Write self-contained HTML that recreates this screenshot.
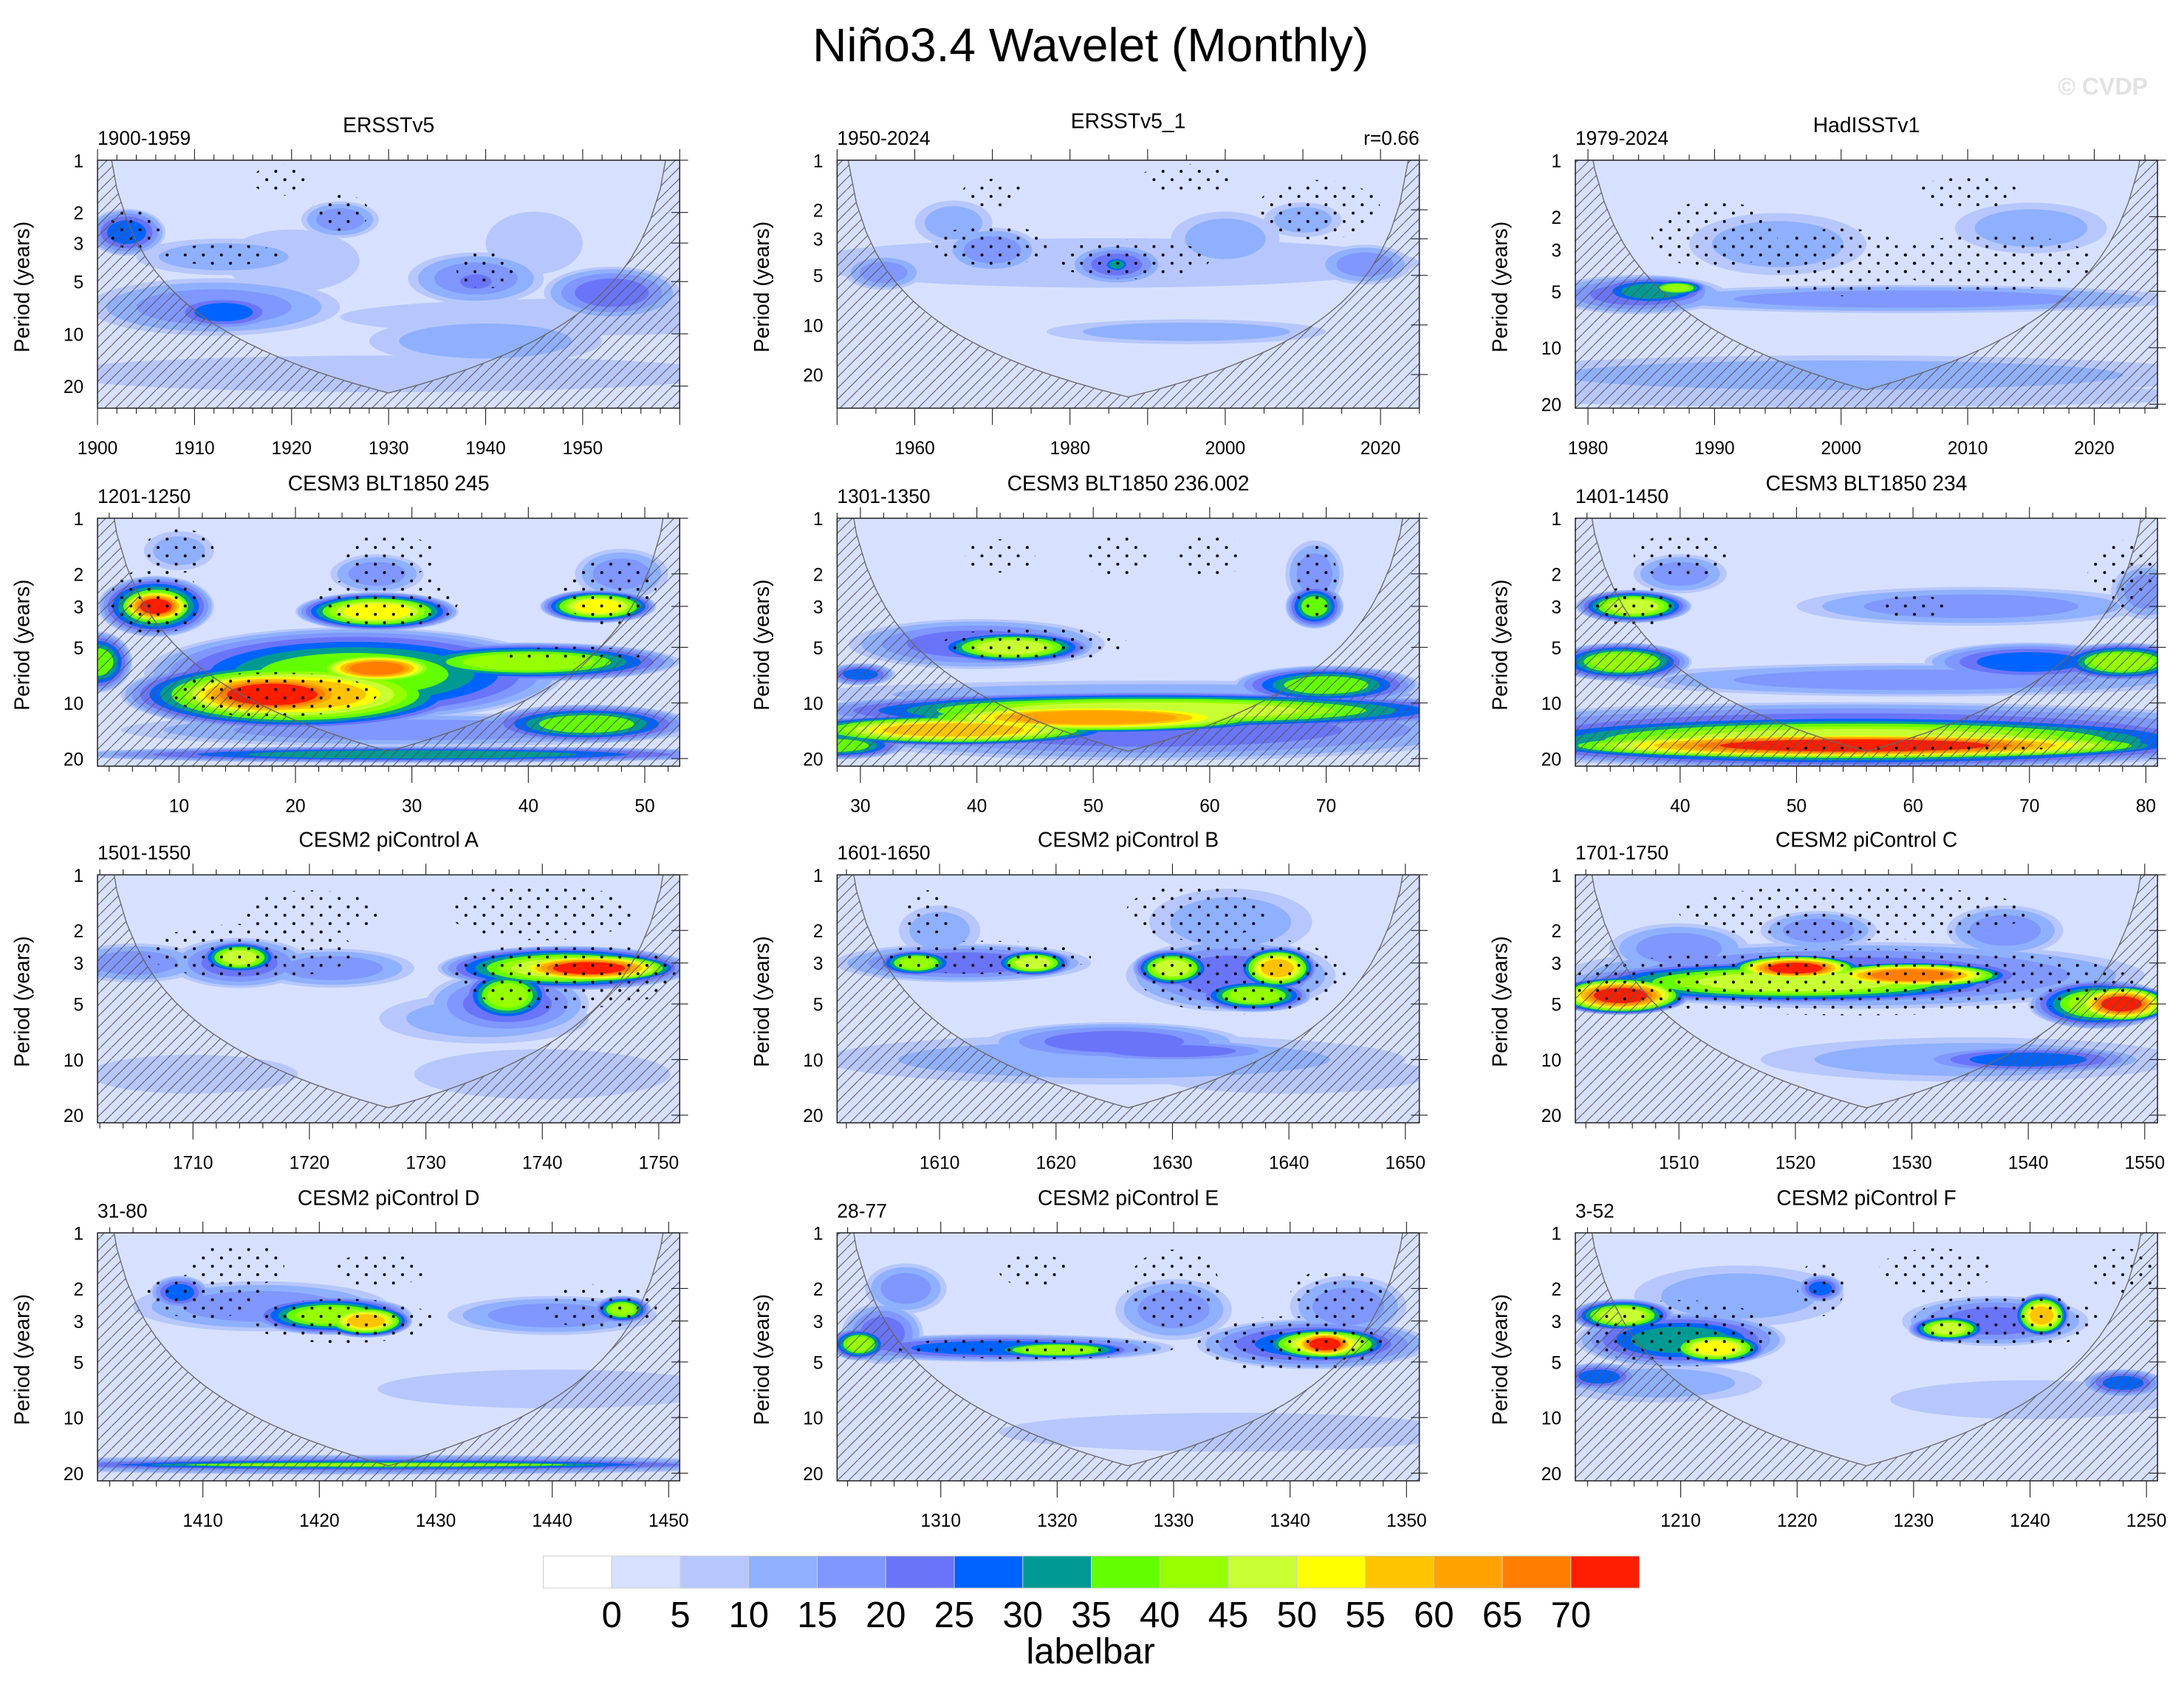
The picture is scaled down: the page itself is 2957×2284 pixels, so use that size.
<!DOCTYPE html>
<html><head><meta charset="utf-8"><style>
html,body{margin:0;padding:0;background:#fff}
svg{display:block}
text{font-family:"Liberation Sans",sans-serif}
</style></head><body>
<svg id="fig" width="2957" height="2284" viewBox="0 0 1568 1211" preserveAspectRatio="none">
<defs>
<pattern id="hatch" width="8" height="8" patternUnits="userSpaceOnUse"><path d="M-1,9 L9,-1" stroke="#555" stroke-width="0.55"/></pattern>
<pattern id="stip" width="13" height="12" patternUnits="userSpaceOnUse"><circle cx="3" cy="3" r="1.05" fill="#000"/><circle cx="9.5" cy="9" r="1.05" fill="#000"/></pattern>
</defs>
<text x="783" y="44" font-size="34" text-anchor="middle">Niño3.4 Wavelet (Monthly)</text>
<text x="1542" y="68" font-size="17" font-weight="bold" fill="#e2e2e2" text-anchor="end">© CVDP</text>
<g id="panels"></g>
<g id="labelbar"></g>
</svg>
<script>
const levelColors=["#ffffff","#d7e1ff","#b7c7fd","#8fb0ff","#7f97ff","#6a74f8","#0063ff","#009a93","#63ff00","#96ff00","#c8ff33","#ffff00","#ffc400","#ffa200","#ff7d00","#ff1e00"];
const levelLabels=["0","5","10","15","20","25","30","35","40","45","50","55","60","65","70"];
const periodTicks=[1,2,3,5,10,20];
// blobs: [time, period, halfWidthYears, halfHeightOctaves, peakLevel]
const blobs_r1c1=[[1903,2.6,4,0.45,6],[1913,3.6,9,0.35,3],[1912,7,13,0.55,4],[1913,7.5,6,0.35,6],[1925,2.2,4,0.35,4],[1939,4.8,7,0.5,4],[1939,5,3,0.25,5],[1953,5.8,7,0.5,5],[1940,11,12,0.45,3],[1930,17,35,0.35,2],[1950,8,25,0.35,2],[1920,3.8,7,0.6,2],[1945,3,5,0.6,2]];
const stip_r1c1=[[1904,2.5,3,0.4],[1913,3.5,6,0.2],[1925,2,3,0.35],[1919,1.3,3,0.3],[1940,4.3,3,0.35]];
const blobs_r1c2=[[1985,4.2,40,0.5,2],[1956,4.8,5,0.35,4],[1970,3.5,6,0.45,4],[1986,4.3,6,0.4,5],[1986,4.3,2,0.18,7],[2000,3,7,0.55,3],[2018,4.3,6,0.4,4],[2010,2.3,5,0.35,3],[1995,11,18,0.25,3],[1965,2.4,5,0.45,3]];
const stip_r1c2=[[1970,3.3,8,0.4],[1988,4,10,0.4],[2012,2,8,0.6],[1995,1.3,6,0.3],[1970,1.6,4,0.3]];
const blobs_r1c3=[[1984,5.2,7,0.35,5],[1985,5,5,0.28,7],[1987,4.8,2.5,0.15,9],[2005,5.5,22,0.25,4],[2015,2.3,6,0.45,3],[1995,2.8,7,0.55,3],[2000,14,30,0.35,3],[2000,18,30,0.2,2]];
const stip_r1c3=[[1990,2.5,5,0.6],[2000,3.5,6,0.6],[2012,3.5,8,0.5],[2010,1.5,4,0.3]];
const blobs_r2c1=[[25,7,18,0.85,8],[20,9,15,0.65,12],[18,9,10,0.5,15],[27,6.5,6,0.3,14],[8,3,5,0.55,9],[8,3,3.5,0.35,15],[27,3.2,7,0.35,11],[46,3,5,0.3,11],[40,6,13,0.35,9],[30,14,25,0.3,4],[45,13,9,0.35,8],[3,6,3,0.55,8],[30,19,30,0.15,7],[27,2,4,0.35,4],[48,2,4,0.45,4],[10,1.5,3,0.35,3]];
const stip_r2c1=[[18,9,9,0.4],[8,2.8,4,0.6],[28,2.8,6,0.5],[47,2.5,4,0.6],[28,1.6,4,0.4],[10,1.5,3,0.4],[44,5.5,6,0.15]];
const blobs_r2c2=[[55,14,30,0.55,5],[55,9,30,0.25,3],[40,4.8,11,0.45,5],[43,5,7,0.3,10],[55,11,30,0.35,10],[50,12,18,0.3,13],[38,14,15,0.3,12],[28,17,6,0.25,8],[70,8,8,0.35,8],[69,3,2.5,0.4,8],[69,2,2.5,0.6,4],[30,7,3,0.2,6]];
const stip_r2c2=[[45,4.8,8,0.3],[69,2.2,2,0.7],[52,1.6,3,0.4],[60,1.6,3,0.4],[42,1.6,3,0.3]];
const blobs_r2c3=[[55,15,40,0.6,6],[55,16,35,0.5,10],[55,17,30,0.28,15],[36,3,5,0.3,10],[35,6,6,0.35,9],[70,6,9,0.35,6],[78,6,6,0.35,9],[60,7.5,25,0.3,4],[65,3,15,0.35,4],[80,2.5,3,0.5,4],[40,2,4,0.35,4]];
const stip_r2c3=[[36,3,4,0.35],[60,18,12,0.1],[78,2,3,0.6],[40,1.6,4,0.4],[60,3,3,0.2]];
const blobs_r3c1=[[1705,3,6,0.35,4],[1700,3.2,2.5,0.35,7],[1714,3,6,0.45,5],[1714,2.8,3.5,0.3,10],[1722,3.2,7,0.35,4],[1742,3.2,11,0.4,10],[1744,3.2,8,0.28,15],[1737,5,7,0.6,5],[1737,4.5,4,0.5,9],[1735,6,9,0.45,3],[1740,12,11,0.45,2],[1710,12,9,0.35,2]];
const stip_r3c1=[[1715,2.6,9,0.5],[1742,3.5,10,0.6],[1740,1.6,8,0.5],[1720,1.6,6,0.4]];
const blobs_r3c2=[[1612,3,11,0.35,5],[1608,3,3.5,0.25,9],[1618,3,3.5,0.25,10],[1635,3.5,9,0.65,5],[1630,3.2,3.5,0.35,10],[1639,3.2,3.5,0.4,12],[1637,4.5,5,0.3,9],[1625,10,25,0.45,3],[1625,8,11,0.35,5],[1630,9,10,0.2,5],[1640,12,12,0.35,2],[1635,1.8,7,0.6,3],[1610,2,3.5,0.45,3]];
const stip_r3c2=[[1614,2.8,9,0.3],[1636,3.5,9,0.7],[1632,1.6,6,0.5],[1609,1.6,2,0.4]];
const blobs_r3c3=[[1525,3.5,25,0.6,5],[1520,3.8,20,0.4,10],[1505,4.5,6,0.35,15],[1520,3.2,6,0.25,15],[1530,3.5,9,0.25,14],[1546,5,6,0.45,9],[1548,5,4.5,0.35,15],[1535,10,18,0.4,3],[1540,10,10,0.25,6],[1510,2.5,6,0.45,4],[1522,2,5,0.35,4],[1538,2,5,0.45,4]];
const stip_r3c3=[[1525,3.8,25,0.6],[1525,1.6,15,0.5]];
const blobs_r4c1=[[1425,18,35,0.18,5],[1425,18,35,0.12,7],[1425,18,30,0.06,9],[1415,2.5,11,0.45,4],[1440,2.8,9,0.35,4],[1421,2.8,7,0.35,9],[1424,3,4,0.3,12],[1408,2.1,2.5,0.3,6],[1446,2.6,2.5,0.25,9],[1440,7,15,0.35,2]];
const stip_r4c1=[[1422,3,8,0.4],[1410,2.2,5,0.4],[1444,2.5,5,0.4],[1425,1.6,4,0.3],[1413,1.5,4,0.4]];
const blobs_r4c2=[[1315,4.2,15,0.25,6],[1303,4,2.5,0.3,9],[1320,4.3,7,0.18,9],[1342,4,10,0.45,6],[1343,4,6,0.33,11],[1343,4,3.5,0.28,15],[1305,3.5,3.5,0.55,5],[1307,2,3.5,0.45,4],[1330,2.6,5,0.55,4],[1345,2.5,5,0.55,4],[1335,12,20,0.35,2]];
const stip_r4c2=[[1318,4.2,12,0.2],[1340,4,8,0.5],[1330,2,4,0.7],[1344,2.2,4,0.5],[1318,1.6,3,0.3]];
const blobs_r4c3=[[1210,3.8,9,0.5,7],[1205,2.8,4.5,0.3,10],[1213,4.2,4.5,0.3,11],[1237,3,8,0.45,5],[1233,3.3,3.5,0.25,10],[1241,2.8,2.5,0.4,12],[1222,2,2,0.25,6],[1203,6,3.5,0.25,6],[1208,6.5,9,0.35,3],[1248,6.5,3.5,0.25,6],[1240,8,12,0.35,2],[1215,2.2,9,0.55,3]];
const stip_r4c3=[[1210,3.5,8,0.6],[1238,3,8,0.5],[1222,2,2,0.5],[1232,1.6,5,0.4],[1248,1.6,3,0.4]];
const xTicks_r1c1=[1900,1910,1920,1930,1940,1950];
const xTicks_r1c2=[1960,1980,2000,2020];
const xTicks_r1c3=[1980,1990,2000,2010,2020];
const xTicks_r2c1=[10,20,30,40,50];
const xTicks_r2c2=[30,40,50,60,70];
const xTicks_r2c3=[40,50,60,70,80];
const xTicks_r3c1=[1710,1720,1730,1740,1750];
const xTicks_r3c2=[1610,1620,1630,1640,1650];
const xTicks_r3c3=[1510,1520,1530,1540,1550];
const xTicks_r4c1=[1410,1420,1430,1440,1450];
const xTicks_r4c2=[1310,1320,1330,1340,1350];
const xTicks_r4c3=[1210,1220,1230,1240,1250];

const NS="http://www.w3.org/2000/svg";
function mk(tag,attrs,parent){const e=document.createElementNS(NS,tag);for(const k in attrs)e.setAttribute(k,attrs[k]);if(parent)parent.appendChild(e);return e;}
const colX=[70,601,1131], rowY=[115,372,628,885], PW=418, PH=178;
const panels=[
 {r:0,c:0,t0:1900,t1:1960,pmax:26.8,range:"1900-1959",title:"ERSSTv5",blobs:blobs_r1c1,stip:stip_r1c1,ticks:xTicks_r1c1,minor:2},
 {r:0,c:1,t0:1950,t1:2025,pmax:32,range:"1950-2024",title:"ERSSTv5_1",blobs:blobs_r1c2,stip:stip_r1c2,ticks:xTicks_r1c2,minor:5,extra:"r=0.66"},
 {r:0,c:2,t0:1979,t1:2025,pmax:21,range:"1979-2024",title:"HadISSTv1",blobs:blobs_r1c3,stip:stip_r1c3,ticks:xTicks_r1c3,minor:2},
 {r:1,c:0,t0:3,t1:53,pmax:22,range:"1201-1250",title:"CESM3 BLT1850 245",blobs:blobs_r2c1,stip:stip_r2c1,ticks:xTicks_r2c1,minor:2},
 {r:1,c:1,t0:28,t1:78,pmax:22,range:"1301-1350",title:"CESM3 BLT1850 236.002",blobs:blobs_r2c2,stip:stip_r2c2,ticks:xTicks_r2c2,minor:2},
 {r:1,c:2,t0:31,t1:81,pmax:22,range:"1401-1450",title:"CESM3 BLT1850 234",blobs:blobs_r2c3,stip:stip_r2c3,ticks:xTicks_r2c3,minor:2},
 {r:2,c:0,t0:1701.8,t1:1751.8,pmax:22,range:"1501-1550",title:"CESM2 piControl A",blobs:blobs_r3c1,stip:stip_r3c1,ticks:xTicks_r3c1,minor:2},
 {r:2,c:1,t0:1601.2,t1:1651.2,pmax:22,range:"1601-1650",title:"CESM2 piControl B",blobs:blobs_r3c2,stip:stip_r3c2,ticks:xTicks_r3c2,minor:2},
 {r:2,c:2,t0:1501.1,t1:1551.1,pmax:22,range:"1701-1750",title:"CESM2 piControl C",blobs:blobs_r3c3,stip:stip_r3c3,ticks:xTicks_r3c3,minor:2},
 {r:3,c:0,t0:1400.95,t1:1450.95,pmax:22,range:"31-80",title:"CESM2 piControl D",blobs:blobs_r4c1,stip:stip_r4c1,ticks:xTicks_r4c1,minor:2},
 {r:3,c:1,t0:1301.1,t1:1351.1,pmax:22,range:"28-77",title:"CESM2 piControl E",blobs:blobs_r4c2,stip:stip_r4c2,ticks:xTicks_r4c2,minor:2},
 {r:3,c:2,t0:1200.95,t1:1250.95,pmax:22,range:"3-52",title:"CESM2 piControl F",blobs:blobs_r4c3,stip:stip_r4c3,ticks:xTicks_r4c3,minor:2}
];
const root=document.getElementById('panels');
panels.forEach((p,i)=>{
  const x0=colX[p.c], y0=rowY[p.r];
  const xs=t=>x0+(t-p.t0)/(p.t1-p.t0)*PW;
  const pxOct=PH/Math.log2(p.pmax);
  const ys=P=>y0+Math.log2(P)*pxOct;
  const g=mk('g',{},root);
  
  
  const cid='clip'+i;
  const cp=mk('clipPath',{id:cid},g); mk('rect',{x:x0,y:y0,width:PW,height:PH},cp);
  const field=mk('g',{'clip-path':'url(#'+cid+')'},g);
  mk('rect',{x:x0,y:y0,width:PW,height:PH,fill:levelColors[1]},field);
  for(let k=2;k<=15;k++){
    p.blobs.forEach(b=>{
      const L=b[4]; if(L<k) return;
      const s=L<=2?1:1-0.68*Math.pow((k-2)/(L-1),1.4);
      const e=mk('ellipse',{cx:xs(b[0]),cy:ys(b[1]),rx:b[2]*PW/(p.t1-p.t0)*s,ry:b[3]*pxOct*s,fill:levelColors[k]},field);
      
      
    });
  }
  p.stip.forEach(st=>{
    const e=mk('ellipse',{cx:xs(st[0]),cy:ys(st[1]),rx:st[2]*PW/(p.t1-p.t0),ry:st[3]*pxOct,fill:'url(#stip)'},field);
    
    
  });
  const pts=[]; const N=60;
  for(let j=0;j<=N;j++){const t=p.t0+(p.t1-p.t0)*j/N;const d=Math.max(0.05,Math.min(t-p.t0,p.t1-t));const P=Math.max(0.5,0.73*d);pts.push([xs(t),Math.min(ys(P),y0+PH+50)]);}
  const poly=pts.map(q=>q[0].toFixed(1)+','+q[1].toFixed(1)).join(' ');
  const h=mk('polygon',{points:poly+' '+(x0+PW)+','+(y0+PH+60)+' '+x0+','+(y0+PH+60),fill:'url(#hatch)'},field);
  
  
  const cl=mk('polyline',{points:poly,fill:'none',stroke:'#666',"stroke-width":0.7},field);
  
  
  const fr=mk('rect',{x:x0,y:y0,width:PW,height:PH,fill:'none',stroke:'#222',"stroke-width":0.8},g);
  
  
  const first=Math.ceil(p.t0/p.minor)*p.minor;
  for(let t=first;t<=p.t1;t+=p.minor){
    const major=p.ticks.includes(t)||(t%10===0); const len=major?8:4; const x=xs(t);
    mk('line',{x1:x,x2:x,y1:y0,y2:y0-len,stroke:'#222',"stroke-width":0.6},g);
    mk('line',{x1:x,x2:x,y1:y0+PH,y2:y0+PH+len+(major?4:0),stroke:'#222',"stroke-width":0.6},g);
  }
  p.ticks.forEach(t=>{
    const tx=mk('text',{x:xs(t),y:y0+PH+33,"font-size":13,"text-anchor":"middle"},g); tx.textContent=t;
    
    
  });
  periodTicks.forEach(P=>{
    const y=ys(P); if(y>y0+PH+1) return;
    mk('line',{x1:x0+PW,x2:x0+PW-6,y1:y,y2:y,stroke:'#222',"stroke-width":0.6},g);
    mk('line',{x1:x0+PW,x2:x0+PW+6,y1:y,y2:y,stroke:'#222',"stroke-width":0.6},g);
    const tx=mk('text',{x:x0-10,y:y+5,"font-size":13,"text-anchor":"end"},g); tx.textContent=P;
    
    
  });
  const yt=mk('text',{x:0,y:0,"font-size":15,"text-anchor":"middle",transform:'translate('+(x0-49)+','+(y0+PH/2+2)+') rotate(-90)'},g);
  yt.textContent='Period (years)';
  
  
  const rt=mk('text',{x:x0,y:y0-11,"font-size":14},g); rt.textContent=p.range;
  
  
  const tt=mk('text',{x:x0+PW/2,y:y0-(p.r===0&&p.c===1?23:20),"font-size":15,"text-anchor":"middle"},g); tt.textContent=p.title;
  
  
  if(p.extra){const et=mk('text',{x:x0+PW,y:y0-11,"font-size":14,"text-anchor":"end"},g); et.textContent=p.extra;
    
    }
});
const lb=document.getElementById('labelbar');
const bx=390,bw=787/16,by=1117,bh=23;
levelColors.forEach((c,k)=>{
  const r=mk('rect',{x:bx+k*bw,y:by,width:bw,height:bh,fill:c,stroke:'#ccc',"stroke-width":0.5},lb);
  
  
});
levelLabels.forEach((s,k)=>{
  const t=mk('text',{x:bx+(k+1)*bw,y:1168,"font-size":26,"text-anchor":"middle"},lb); t.textContent=s;
  
  
});
const lt=mk('text',{x:783,y:1194,"font-size":26,"text-anchor":"middle"},lb); lt.textContent='labelbar';


</script>
</body></html>
